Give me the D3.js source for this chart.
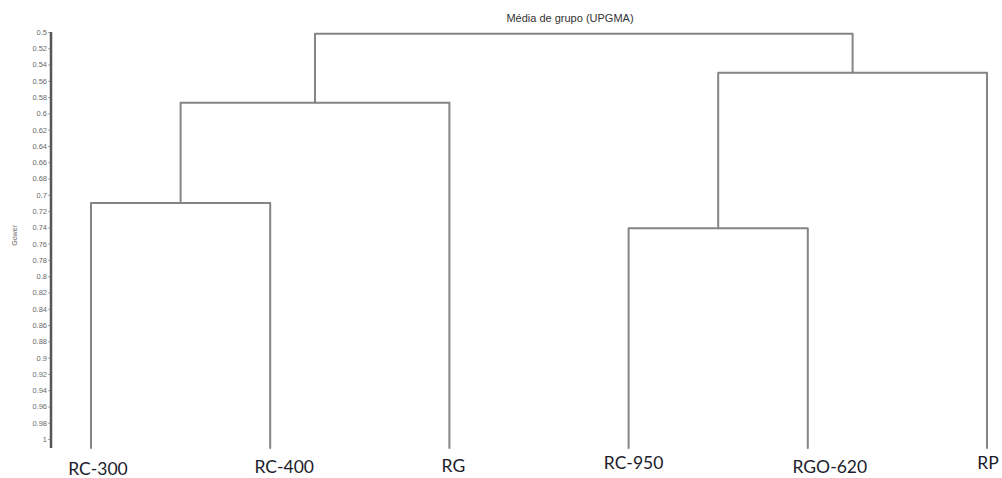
<!DOCTYPE html>
<html>
<head>
<meta charset="utf-8">
<script src="https://cdn.jsdelivr.net/npm/d3@7"></script>
<style>
  html, body { margin: 0; padding: 0; background: #fff; }
  svg { display: block; }
</style>
</head>
<body>
<svg id="chart" width="1002" height="478"></svg>
<script>
// Leaves of the dendrogram, left to right
const leafNames = ["RC-300", "RC-400", "RG", "RC-950", "RGO-620", "RP"];

// Agglomeration steps: [id, left child, right child, Gower level]
const mergeIds    = ["A", "B", "C", "D", "root"];
const mergeLeft   = ["RC-300", "A", "RC-950", "C", "B"];
const mergeRight  = ["RC-400", "RG", "RGO-620", "RP", "D"];
const mergeLevels = [0.710, 0.587, 0.741, 0.550, 0.502];

// Level where the leaf stems end (just below the axis' last tick)
const leafLevel = 1.011;

// Axis ticks
const gowerTicks = [0.5, 0.52, 0.54, 0.56, 0.58, 0.6, 0.62, 0.64, 0.66, 0.68,
                    0.7, 0.72, 0.74, 0.76, 0.78, 0.8, 0.82, 0.84, 0.86, 0.88,
                    0.9, 0.92, 0.94, 0.96, 0.98, 1];

const titleText = "Média de grupo (UPGMA)";
const axisTitle = "Gower";

// Small hand adjustments of the leaf captions (dx, baseline offset)
const labelDx = [7, 14, 4, 5, 22, 1];
const labelDy = [27, 25, 24, 21, 25, 21];

const svg = d3.select("#chart");

// ---- Build the tree from the merge table ----
const nodes = {};
leafNames.forEach(n => nodes[n] = { name: n, level: leafLevel });
mergeIds.forEach((id, i) => {
  nodes[id] = { name: id, level: mergeLevels[i],
                children: [nodes[mergeLeft[i]], nodes[mergeRight[i]]] };
});
const root = d3.hierarchy(nodes["root"]);

// Leaves evenly spaced; each join sits midway between its two children
const xLeaf = d3.scalePoint().domain(leafNames).range([91, 987]);
root.eachAfter(d => {
  d.x = d.children ? d3.mean(d.children, c => c.x) : xLeaf(d.data.name);
});

const y = d3.scaleLinear().domain([0.5, 1]).range([32, 439]);
const xPos = d => d.x;
const yPos = d => y(d.data.level);

// ---- Y axis ----
const axisX = 51;
const gAxis = svg.append("g").attr("transform", `translate(${axisX},0)`);
gAxis.call(d3.axisLeft(y).tickValues(gowerTicks).tickSize(3).tickPadding(1)
  .tickFormat(d3.format("")));
gAxis.select(".domain").remove();
gAxis.selectAll(".tick line").attr("stroke", "#aaa");
gAxis.selectAll(".tick text")
  .attr("fill", "#6a6a6a")
  .style("font", "7.5px Arial, 'Liberation Sans', sans-serif");
gAxis.append("line")
  .attr("x1", 0).attr("x2", 0)
  .attr("y1", y(0.5)).attr("y2", y(leafLevel))
  .attr("stroke", "#555").attr("stroke-width", 2.5);

svg.append("text")
  .attr("transform", `translate(17,${y(0.75)}) rotate(-90)`)
  .attr("text-anchor", "middle")
  .attr("fill", "#666")
  .style("font", "7px Arial, 'Liberation Sans', sans-serif")
  .text(axisTitle);

// ---- Title ----
svg.append("text")
  .attr("x", 570).attr("y", 22)
  .attr("text-anchor", "middle")
  .attr("fill", "#333")
  .style("font", "11px Arial, 'Liberation Sans', sans-serif")
  .text(titleText);

// ---- Dendrogram links ----
const gTree = svg.append("g")
  .attr("fill", "none")
  .attr("stroke", "#858585")
  .attr("stroke-width", 2)
  .attr("stroke-linejoin", "round")
  .attr("stroke-linecap", "round");

root.descendants().filter(d => d.children).forEach(d => {
  const [a, b] = d.children;
  const yy = yPos(d);
  const path = d3.path();
  path.moveTo(xPos(a), yPos(a));
  path.lineTo(xPos(a), yy);
  path.lineTo(xPos(b), yy);
  path.lineTo(xPos(b), yPos(b));
  gTree.append("path").attr("d", path.toString());
});

// ---- Leaf captions ----
svg.append("g")
  .selectAll("text")
  .data(root.leaves())
  .join("text")
  .attr("x", (d, i) => xPos(d) + labelDx[i])
  .attr("y", (d, i) => yPos(d) + labelDy[i])
  .attr("text-anchor", "middle")
  .attr("fill", "#1c1c2c")
  .style("font", "17.5px Lato, 'Open Sans', sans-serif")
  .text(d => d.data.name);
</script>
</body>
</html>
